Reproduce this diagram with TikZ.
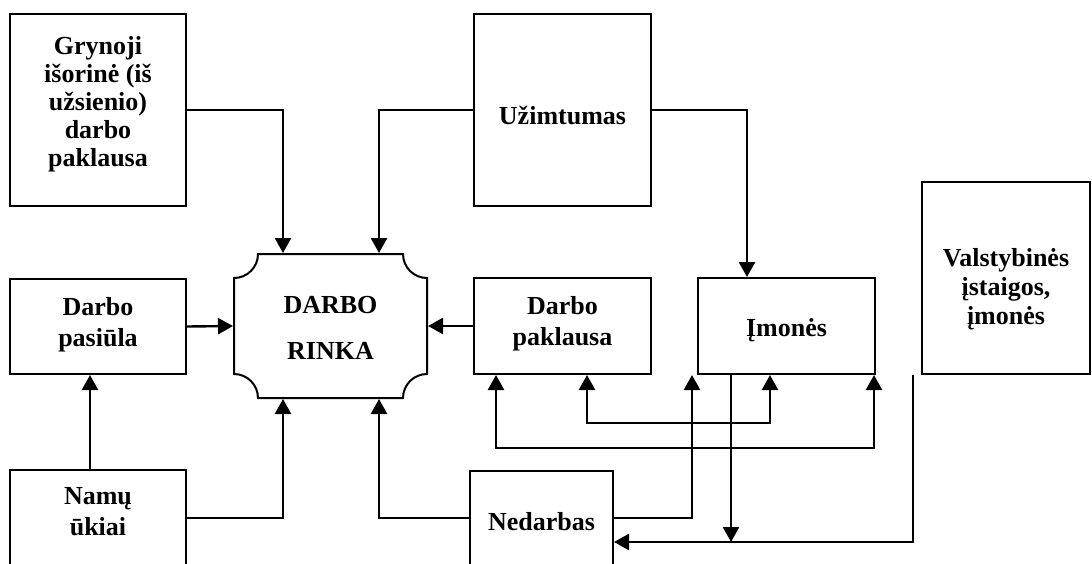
\documentclass[tikz,border=0pt]{standalone}
\usepackage{fontspec}
\setmainfont{Liberation Serif}
\usetikzlibrary{arrows.meta,calc}
\begin{document}
\begin{tikzpicture}[x=1pt,y=-1pt,
  box/.style={draw,line width=2pt,inner sep=0pt,align=center,
              font=\fontsize{26}{31}\selectfont\bfseries},
  link/.style={line width=2.4pt},
  tip/.tip={Triangle[length=15pt,width=16pt]},
  arr/.style={link,-tip},
  arrs/.style={link,tip-tip}]
\useasboundingbox (0,0) rectangle (1092,563);
\clip (0,0) rectangle (1092,563);

% boxes (struts nudge the text up or down inside its frame)
\node[box,minimum width=176pt,minimum height=192pt,
      font=\fontsize{26}{28}\selectfont\bfseries] (gry) at (98,110)
  {Grynoji\\išorinė (iš\\užsienio)\\darbo\\paklausa\rule[-18pt]{0pt}{18pt}};
\node[box,minimum width=177pt,minimum height=192pt] (uzi) at (562.5,110)
  {\rule{0pt}{30pt}Užimtumas};
\node[box,minimum width=176pt,minimum height=95pt] (pas) at (98,326.5)
  {Darbo\\pasiūla\rule[-10pt]{0pt}{10pt}};
\node[box,draw=none,minimum width=193pt,minimum height=144pt,
      font=\fontsize{26}{46}\selectfont\bfseries] (rinka) at (330.5,326)
  {\rule{0pt}{21pt}DARBO\\RINKA};
\node[box,minimum width=177pt,minimum height=96pt] (dpk) at (562.5,326)
  {Darbo\\paklausa\rule[-10pt]{0pt}{10pt}};
\node[box,minimum width=177pt,minimum height=96pt] (imo) at (786.5,326)
  {\rule{0pt}{27pt}Įmonės};
\node[box,minimum width=168pt,minimum height=192pt,
      font=\fontsize{26}{29}\selectfont\bfseries] (val) at (1006,278)
  {\rule{0pt}{40pt}Valstybinės\\įstaigos,\\įmonės};
\node[box,minimum width=176pt,minimum height=96pt] (nam) at (98,518)
  {Namų\\ūkiai\rule[-14pt]{0pt}{14pt}};
\node[box,minimum width=143pt,minimum height=94pt] (ned) at (541.5,518)
  {\rule{0pt}{26pt}Nedarbas};

% market outline with concave corners
\draw[line width=2pt]
  (258,254) -- (403,254)
  .. controls (403,267.25) and (413.75,278) .. (427,278)
  -- (427,374)
  .. controls (413.75,374) and (403,384.75) .. (403,398)
  -- (258,398)
  .. controls (258,384.75) and (247.25,374) .. (234,374)
  -- (234,278)
  .. controls (247.25,278) and (258,267.25) .. (258,254) -- cycle;

% connectors
\draw[arr] (gry.east) -| ([xshift=-47.5pt]rinka.north);
\draw[arr] (uzi.west) -| ([xshift=48.5pt]rinka.north);
\draw[arr] (uzi.east) -| ([xshift=-39.5pt]imo.north);
\draw[arr] (pas.east) -- (rinka.west);
\draw[arr] (dpk.west) -- (rinka.east);
\draw[arr] ([xshift=-8pt]nam.north) -- ([xshift=-8pt]pas.south);
\draw[arr] (nam.east) -| ([xshift=-47.5pt]rinka.south);
\draw[arr] (ned.west) -| ([xshift=48.5pt]rinka.south);
\draw[arr] (ned.east) -| ([xshift=-94.5pt]imo.south);
\coordinate (bus) at ([yshift=-24pt]ned.east);
\coordinate (imoout) at ([xshift=-55.5pt]imo.south);
\draw[arr] (imoout) -- (imoout |- bus);
\draw[arr] ([xshift=-93pt]val.south) |- (bus);
\draw[arrs] ([xshift=24.5pt]dpk.south) -- ++(0,48) -| ([xshift=-16.5pt]imo.south);
\draw[arrs] ([xshift=-66.5pt]dpk.south) -- ++(0,73) -| ([xshift=-132pt]val.south);
\end{tikzpicture}
\end{document}
